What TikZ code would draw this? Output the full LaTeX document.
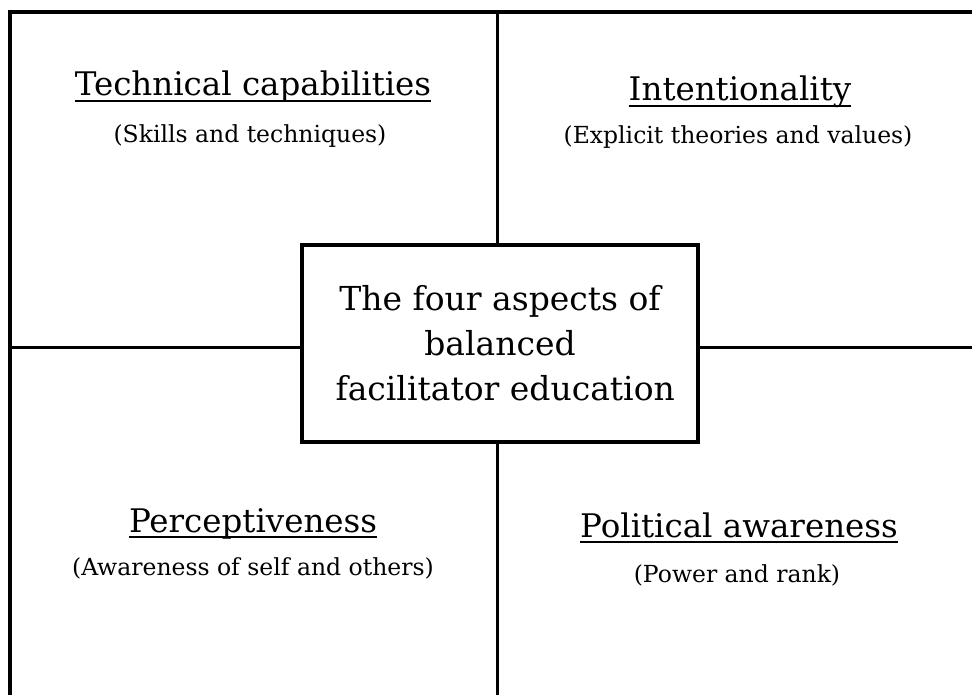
\documentclass[tikz,border=0pt]{standalone}
\usepackage{fontspec}
\setmainfont{DejaVu Serif}
\begin{document}
\begin{tikzpicture}[x=1pt,y=-1pt,
  frame/.style={line width=4pt},
  divider/.style={line width=3pt},
  centerbox/.style={draw,line width=3.5pt,fill=white,minimum width=396pt,minimum height=197pt,inner sep=0pt},
  heading/.style={font=\fontsize{32.5}{35}\selectfont,anchor=base,inner sep=0pt},
  subheading/.style={font=\fontsize{23.5}{26}\selectfont,anchor=base,inner sep=0pt},
  uline/.style={line width=1.8pt}]
\useasboundingbox (0,0) rectangle (972,695);

% outer frame (open towards the right and bottom edges)
\coordinate (tl) at (10,12);
\coordinate (tr) at (974,12);
\coordinate (bl) at (10,697);
\coordinate (vt) at (497,12);
\coordinate (vb) at (497,697);
\coordinate (hl) at (10,347);
\coordinate (hr) at (974,347);
\draw[frame] (bl) -- (tl) -- (tr);
\draw[divider] (vt) -- (vb);
\draw[divider] (hl) -- (hr);

% central box
\node[centerbox,align=center,font=\fontsize{33}{45}\selectfont] (core) at (500,343.5)
  {The four aspects of\\balanced\\\ facilitator education};

% quadrant headings
\node[heading] (tech) at (253,96) {Technical capabilities};
\node[subheading] (techsub) at (250,143) {(Skills and techniques)};
\node[heading] (intent) at (740,101) {Intentionality};
\node[subheading] (intentsub) at (738,144) {(Explicit theories and values)};
\node[heading] (perc) at (253,532) {Perceptiveness};
\node[subheading] (percsub) at (253,575) {(Awareness of self and others)};
\node[heading] (polit) at (739,537) {Political awareness};
\node[subheading] (politsub) at (737,582) {(Power and rank)};

% underlines of the headings
\foreach \h in {tech,intent,perc,polit}
  \draw[uline] ([yshift=-5pt]\h.base west) -- ([yshift=-5pt]\h.base east);
\end{tikzpicture}
\end{document}
